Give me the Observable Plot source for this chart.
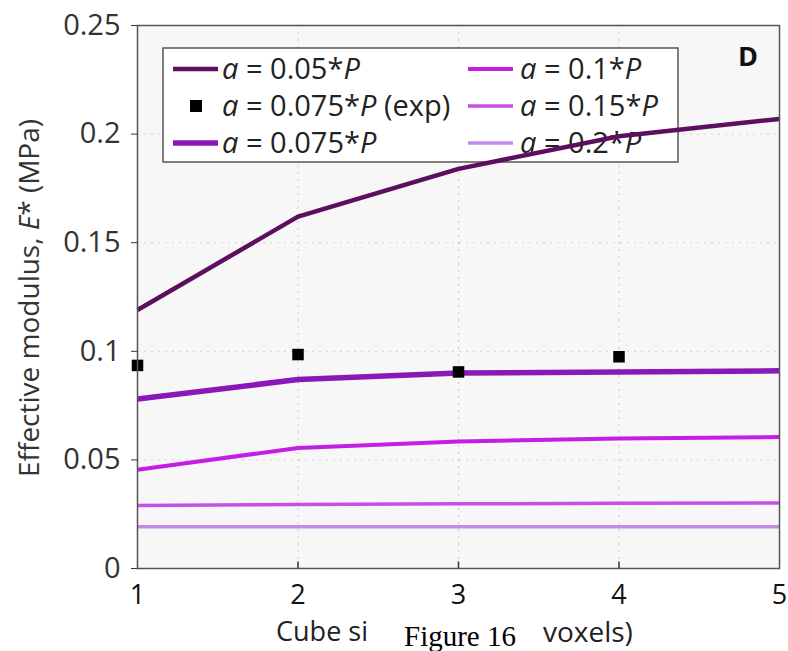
<!DOCTYPE html>
<html>
<head>
<meta charset="utf-8">
<script src="https://cdn.jsdelivr.net/npm/d3@7"></script>
<script src="https://cdn.jsdelivr.net/npm/@observablehq/plot@0.6"></script>
<style>
  html, body { margin: 0; padding: 0; background: #ffffff; }
  #chart { position: relative; width: 788px; height: 651px; }
</style>
</head>
<body>
<div id="chart"></div>
<script>
// ---- data ----
const cubeSizes = [1, 2, 3, 4, 5];
const seriesNames = ["a = 0.05*P", "a = 0.075*P", "a = 0.1*P", "a = 0.15*P", "a = 0.2*P"];
const s005 = [0.119, 0.162, 0.184, 0.199, 0.207];
const s0075 = [0.078, 0.087, 0.090, 0.0905, 0.091];
const s01 = [0.0455, 0.0555, 0.0585, 0.0598, 0.0605];
const s015 = [0.0290, 0.0295, 0.0298, 0.0300, 0.0302];
const s02 = [0.0192, 0.0192, 0.0192, 0.0192, 0.0192];
const expSizes = [1, 2, 3, 4];
const expValues = [0.0935, 0.0985, 0.0905, 0.0975];
const seriesColors = ["#5c0f5e", "#8a18b8", "#c41ee6", "#c84fe6", "#c48ae8"];
const seriesWidths = [4.5, 5.5, 4, 3.5, 3.5];
const yTicks = [0, 0.05, 0.1, 0.15, 0.2, 0.25];
const yTickLabels = ["0", "0.05", "0.1", "0.15", "0.2", "0.25"];
const xTicks = [1, 2, 3, 4, 5];

const allSeries = [s005, s0075, s01, s015, s02];
const lineRows = allSeries.flatMap((vals, i) =>
  vals.map((v, j) => ({ x: cubeSizes[j], y: v, s: seriesNames[i] })));
const expRows = expSizes.map((x, i) => ({ x, y: expValues[i] }));

const font = "'Open Sans', sans-serif";
const W = 788, H = 651;

const plot = Plot.plot({
  width: W,
  height: H,
  marginLeft: 137,
  marginRight: 9,
  marginTop: 25,
  marginBottom: 83,
  style: { fontFamily: font, fontSize: "29px", color: "#333", background: "transparent" },
  x: { domain: [1, 5], label: null },
  y: { domain: [0, 0.25], label: null },
  color: { domain: seriesNames, range: seriesColors },
  marks: [
    Plot.frame({ fill: "#f7f7f7", stroke: "none" }),
    Plot.ruleX([2, 3, 4], { stroke: "#c8c8c8", strokeDasharray: "2,5", strokeWidth: 1 }),
    Plot.ruleY([0.05, 0.1, 0.15, 0.2], { stroke: "#d0d0d0", strokeDasharray: "2,5", strokeWidth: 1 }),
    ...allSeries.map((vals, i) =>
      Plot.line(lineRows.filter(d => d.s === seriesNames[i]), {
        x: "x", y: "y", stroke: seriesColors[i], strokeWidth: seriesWidths[i],
        strokeLinejoin: "round", strokeLinecap: "butt"
      })),
    Plot.dot(expRows, { x: "x", y: "y", symbol: "square", r: 6.5, fill: "#000", stroke: "none" }),
    Plot.frame({ stroke: "#555", strokeWidth: 1.5 }),
    Plot.axisY(yTicks, {
      tickFormat: (d) => yTickLabels[yTicks.indexOf(d)],
      tickSize: 6, tickPadding: 11, label: null, fill: "#333", stroke: "#333"
    }),
    Plot.axisX(xTicks, {
      tickFormat: d => String(d), tickSize: 0, tickPadding: 16, label: null, fill: "#111", fontSize: 27
    }),
    Plot.ruleX([2, 3, 4], { y1: 0, y2: 0.003, stroke: "#333", strokeWidth: 1.5 })
  ]
});

document.getElementById("chart").appendChild(plot);
const svg = d3.select(plot);

// legend (drawn behind the lines)
const firstLine = plot.querySelector("g[aria-label='line']");
const leg = document.createElementNS("http://www.w3.org/2000/svg", "g");
plot.insertBefore(leg, firstLine);
const L = d3.select(leg).attr("font-family", font).attr("font-size", 29).attr("fill", "#222")
  .attr("text-anchor", "start");
L.append("rect").attr("x", 163).attr("y", 48).attr("width", 515).attr("height", 114)
  .attr("fill", "#ffffff").attr("stroke", "#555").attr("stroke-width", 1.5);

function label(g, x, y, coef, suffix) {
  const t = g.append("text").attr("x", x).attr("y", y).attr("dy", "0.35em").attr("text-anchor", "start");
  t.append("tspan").attr("font-style", "italic").text("a");
  t.append("tspan").text(" = " + coef + "*");
  t.append("tspan").attr("font-style", "italic").text("P");
  if (suffix) t.append("tspan").text(" " + suffix);
}
const legendItems = [
  { col: 0, row: 0, coef: "0.05", idx: 0 },
  { col: 0, row: 1, coef: "0.075", exp: true },
  { col: 0, row: 2, coef: "0.075", idx: 1 },
  { col: 1, row: 0, coef: "0.1", idx: 2 },
  { col: 1, row: 1, coef: "0.15", idx: 3 },
  { col: 1, row: 2, coef: "0.2", idx: 4 }
];
const legTop = 69, legStep = 37;
legendItems.forEach(it => {
  const x0 = it.col === 0 ? 173 : 468;
  const y = legTop + it.row * legStep;
  if (it.exp) {
    L.append("rect").attr("x", x0 + 17).attr("y", y - 6).attr("width", 12).attr("height", 12).attr("fill", "#000");
    label(L, x0 + 49, y, it.coef, "(exp)");
  } else {
    L.append("line").attr("x1", x0).attr("x2", x0 + 45).attr("y1", y).attr("y2", y)
      .attr("stroke", seriesColors[it.idx]).attr("stroke-width", seriesWidths[it.idx]);
    label(L, x0 + (it.col === 0 ? 49 : 52), y, it.coef, null);
  }
});

// panel letter
svg.append("text").attr("x", 748).attr("y", 57).attr("dy", "0.35em").attr("text-anchor", "middle")
  .attr("font-family", font).attr("font-size", 27).attr("font-weight", "bold").attr("fill", "#111").text("D");

// y axis title
const yt = svg.append("text").attr("transform", "translate(29,298) rotate(-90)")
  .attr("text-anchor", "middle").attr("font-family", font).attr("font-size", 28).attr("fill", "#333")
  .attr("dy", "0.35em");
yt.append("tspan").text("Effective modulus, ");
yt.append("tspan").attr("font-style", "italic").text("E");
yt.append("tspan").text("* (MPa)");

// x axis title (partially covered in the source image)
svg.append("text").attr("x", 368).attr("y", 632).attr("dy", "0.35em").attr("text-anchor", "end")
  .attr("font-family", font).attr("font-size", 27).attr("fill", "#222").text("Cube si");
svg.append("text").attr("x", 543).attr("y", 632).attr("dy", "0.35em").attr("text-anchor", "start")
  .attr("font-family", font).attr("font-size", 28).attr("fill", "#222").text("voxels)");
svg.append("text").attr("x", 460).attr("y", 646).attr("text-anchor", "middle")
  .attr("font-family", "'Liberation Serif', 'DejaVu Serif', serif").attr("font-size", 29).attr("fill", "#000").text("Figure 16");
</script>
</body>
</html>
